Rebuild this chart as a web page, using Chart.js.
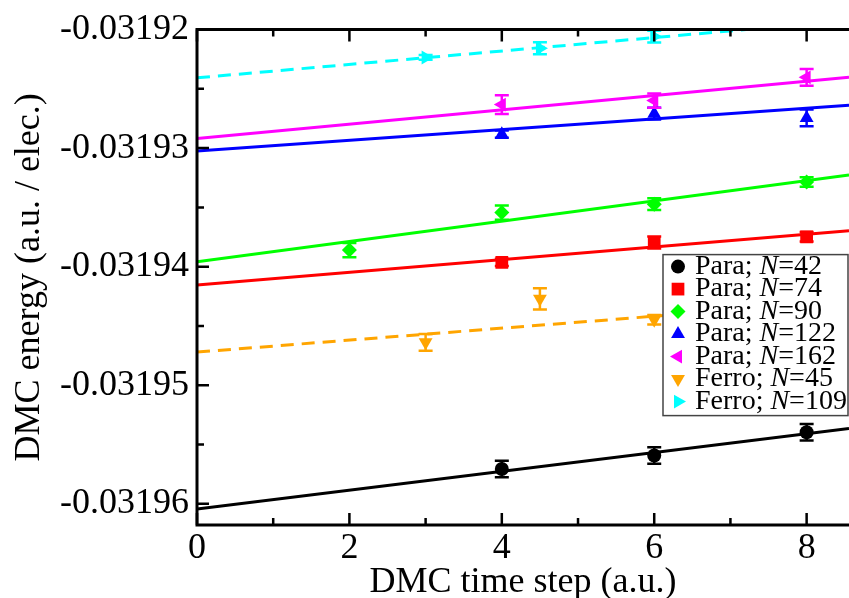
<!DOCTYPE html>
<html>
<head>
<meta charset="utf-8">
<script src="https://cdn.jsdelivr.net/npm/chart.js@4.4.0/dist/chart.umd.min.js"></script>
<style>
  html, body { margin: 0; padding: 0; background: #fff; }
  #wrap { width: 849px; height: 598px; }
</style>
</head>
<body>
<div id="wrap"><canvas id="dmcChart"></canvas></div>
<script>
// DMC energy vs time step, one fit line per system
const xMax = 8.556;
const yMin = -0.0319618;
const yMax = -0.03192;
const xTickValues = [0, 2, 4, 6, 8];
const yTickValues = [-0.03196, -0.03195, -0.03194, -0.03193, -0.03192];

const phases = ['Para', 'Para', 'Para', 'Para', 'Para', 'Ferro', 'Ferro'];
const sizesN = [42, 74, 90, 122, 162, 45, 109];

const para42Steps = [4, 6, 8];
const para42Energy = [-0.03195708, -0.03195594, -0.03195397];
const para42Err = [0.0000007, 0.0000007, 0.0000007];

const para74Steps = [4, 6, 8];
const para74Energy = [-0.03193964, -0.03193796, -0.03193748];
const para74Err = [0.0000003, 0.0000005, 0.0000004];

const para90Steps = [2, 4, 6, 8];
const para90Energy = [-0.03193860, -0.03193544, -0.03193473, -0.03193286];
const para90Err = [0.0000006, 0.0000006, 0.0000005, 0.0000004];

const para122Steps = [4, 6, 8];
const para122Energy = [-0.03192882, -0.03192709, -0.03192745];
const para122Err = [0.0000003, 0.0000005, 0.0000007];

const para162Steps = [4, 6, 8];
const para162Energy = [-0.03192633, -0.03192599, -0.03192403];
const para162Err = [0.0000008, 0.0000006, 0.0000007];

const ferro45Steps = [3, 4.5, 6];
const ferro45Energy = [-0.03194639, -0.03194272, -0.03194448];
const ferro45Err = [0.0000007, 0.0000009, 0.0000004];

const ferro109Steps = [3, 4.5, 6];
const ferro109Energy = [-0.03192235, -0.03192157, -0.03192059];
const ferro109Err = [0.0000002, 0.0000005, 0.0000005];

// linear fits: E(dt) = intercept + slope * dt
const fitIntercept = [-0.03196045, -0.03194154, -0.03193958, -0.03193025, -0.03192918, -0.03194721, -0.03192407];
const fitSlope = [0.000000793, 0.000000534, 0.000000854, 0.000000451, 0.000000604, 0.000000504, 0.000000566];

const colors = ['#000000', '#ff0000', '#00ff00', '#0000ff', '#ff00ff', '#ffa500', '#00ffff'];
const markers = ['circle', 'rect', 'rectRot', 'triangle', 'triangle', 'triangle', 'triangle'];
const markerRot = [0, 0, 0, 0, -90, 180, 90];
const markerRadius = [7, 9, 7.5, 8, 8, 8, 8];
const dashedFit = [false, false, false, false, false, true, true];

const pointSets = [
  { steps: para42Steps, energy: para42Energy, err: para42Err },
  { steps: para74Steps, energy: para74Energy, err: para74Err },
  { steps: para90Steps, energy: para90Energy, err: para90Err },
  { steps: para122Steps, energy: para122Energy, err: para122Err },
  { steps: para162Steps, energy: para162Energy, err: para162Err },
  { steps: ferro45Steps, energy: ferro45Energy, err: ferro45Err },
  { steps: ferro109Steps, energy: ferro109Energy, err: ferro109Err }
];

const serif = "'Liberation Serif', 'DejaVu Serif', serif";

const datasets = [];
pointSets.forEach((s, i) => {
  datasets.push({
    type: 'scatter',
    label: phases[i] + '; N=' + sizesN[i],
    data: s.steps.map((x, j) => ({ x: x, y: s.energy[j] })),
    pointStyle: markers[i],
    rotation: markerRot[i],
    pointRadius: markerRadius[i],
    pointBackgroundColor: colors[i],
    pointBorderWidth: 0,
    errors: s.err
  });
  datasets.push({
    type: 'line',
    data: [
      { x: 0, y: fitIntercept[i] },
      { x: xMax, y: fitIntercept[i] + fitSlope[i] * xMax }
    ],
    borderColor: colors[i],
    borderWidth: 3,
    borderDash: dashedFit[i] ? [13, 8] : [],
    pointRadius: 0,
    fill: false
  });
});

// error bars with caps
const errorBars = {
  id: 'errorBars',
  afterDatasetsDraw(chart) {
    const ctx = chart.ctx, xs = chart.scales.x, ys = chart.scales.y, a = chart.chartArea;
    ctx.save();
    ctx.beginPath();
    ctx.rect(a.left, a.top, a.right - a.left, a.bottom - a.top);
    ctx.clip();
    ctx.lineWidth = 2.5;
    chart.data.datasets.forEach(ds => {
      if (!ds.errors) return;
      ctx.strokeStyle = ds.pointBackgroundColor;
      ds.data.forEach((p, j) => {
        const px = xs.getPixelForValue(p.x);
        const top = ys.getPixelForValue(p.y + ds.errors[j]);
        const bot = ys.getPixelForValue(p.y - ds.errors[j]);
        ctx.beginPath();
        ctx.moveTo(px, top); ctx.lineTo(px, bot);
        ctx.moveTo(px - 7, top); ctx.lineTo(px + 7, top);
        ctx.moveTo(px - 7, bot); ctx.lineTo(px + 7, bot);
        ctx.stroke();
      });
    });
    ctx.restore();
  }
};

// frame with inward major and minor ticks
const frameTicks = {
  id: 'frameTicks',
  afterDraw(chart) {
    const ctx = chart.ctx, xs = chart.scales.x, ys = chart.scales.y, a = chart.chartArea;
    ctx.save();
    ctx.strokeStyle = '#000';
    ctx.lineWidth = 3;
    ctx.beginPath();
    ctx.moveTo(a.right + 2, a.top); ctx.lineTo(a.left, a.top);
    ctx.lineTo(a.left, a.bottom); ctx.lineTo(a.right + 2, a.bottom);
    ctx.stroke();
    ctx.lineWidth = 2.5;
    ctx.beginPath();
    for (let v = 0; v <= xMax; v += 1) {
      const px = xs.getPixelForValue(v);
      const len = v % 2 === 0 ? 12 : 7;
      ctx.moveTo(px, a.bottom); ctx.lineTo(px, a.bottom - len);
      ctx.moveTo(px, a.top); ctx.lineTo(px, a.top + len);
    }
    for (let k = 0; k <= 8; k++) {
      const v = -0.03196 + k * 0.000005;
      const py = ys.getPixelForValue(v);
      const len = k % 2 === 0 ? 12 : 7;
      ctx.moveTo(a.left, py); ctx.lineTo(a.left + len, py);
    }
    ctx.stroke();
    ctx.restore();
  }
};

// boxed legend inside the plot, with italic N
const legendBox = {
  id: 'legendBox',
  afterDraw(chart) {
    const ctx = chart.ctx, a = chart.chartArea;
    const w = 186, h = 161;
    const left = a.right - w, top = a.top + 225;
    ctx.save();
    ctx.fillStyle = '#fff';
    ctx.fillRect(left, top, w, h);
    ctx.strokeStyle = '#444';
    ctx.lineWidth = 1.5;
    ctx.strokeRect(left, top, w - 1, h);
    ctx.textBaseline = 'middle';
    pointSets.forEach((s, i) => {
      const y = top + 12 + i * 22.5;
      ctx.fillStyle = colors[i];
      Chart.helpers.drawPoint(ctx, {
        pointStyle: markers[i], rotation: markerRot[i], radius: markerRadius[i], borderWidth: 0
      }, left + 15, y);
      ctx.fillStyle = '#000';
      let tx = left + 32;
      ctx.font = '28px ' + serif;
      const pre = phases[i] + '; ';
      ctx.fillText(pre, tx, y);
      tx += ctx.measureText(pre).width;
      ctx.font = 'italic 28px ' + serif;
      ctx.fillText('N', tx, y);
      tx += ctx.measureText('N').width;
      ctx.font = '28px ' + serif;
      ctx.fillText('=' + sizesN[i], tx, y);
    });
    ctx.restore();
  }
};

const ctx = document.getElementById('dmcChart').getContext('2d');

const dmcChart = new Chart(ctx, {
  type: 'scatter',
  data: { datasets: datasets },
  options: {
    responsive: true,
    maintainAspectRatio: false,
    animation: false,
    layout: { autoPadding: false, padding: { top: 28, right: 0, left: 0, bottom: 0 } },
    plugins: {
      legend: { display: false },
      tooltip: { enabled: false }
    },
    scales: {
      x: {
        type: 'linear',
        min: 0,
        max: xMax,
        afterBuildTicks: s => { s.ticks = xTickValues.map(v => ({ value: v })); },
        afterFit: s => { s.height = 73; },
        grid: { display: false, drawTicks: false },
        border: { display: false },
        ticks: { color: '#000', padding: 2, font: { family: serif, size: 36 } },
        title: {
          display: true,
          text: 'DMC time step (a.u.)',
          color: '#000',
          font: { family: serif, size: 36, lineHeight: 1 },
          padding: { top: 0, bottom: -3 }
        }
      },
      y: {
        type: 'linear',
        min: yMin,
        max: yMax,
        afterBuildTicks: s => { s.ticks = yTickValues.map(v => ({ value: v })); },
        afterFit: s => { s.width = 197; },
        grid: { display: false, drawTicks: false },
        border: { display: false },
        ticks: {
          color: '#000',
          padding: 8,
          font: { family: serif, size: 36 },
          callback: v => v.toFixed(5)
        },
        title: {
          display: true,
          text: 'DMC energy (a.u. / elec.)',
          color: '#000',
          font: { family: serif, size: 36, lineHeight: 1 },
          padding: { top: 12, bottom: 0 }
        }
      }
    }
  },
  plugins: [errorBars, frameTicks, legendBox]
});
</script>
</body>
</html>
